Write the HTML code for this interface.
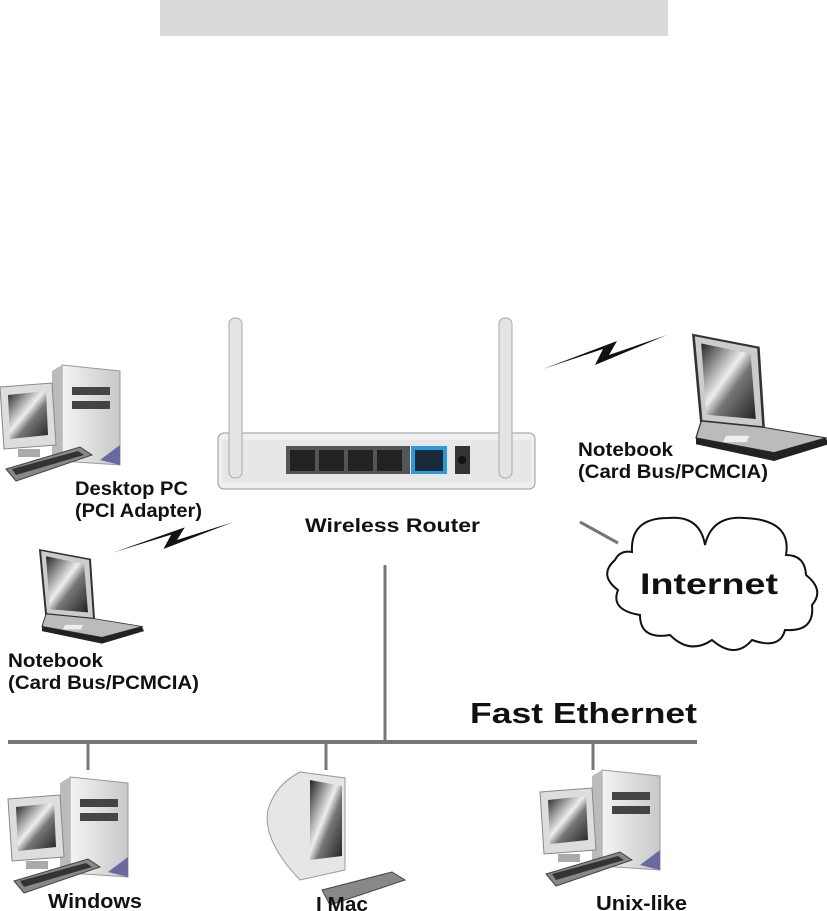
<!DOCTYPE html>
<html><head><meta charset="utf-8"><style>
html,body{margin:0;padding:0;background:#fff;width:827px;height:911px;overflow:hidden}
svg{display:block}
text{font-family:"Liberation Sans",sans-serif;font-weight:bold;fill:#111}
</style></head><body>
<svg width="827" height="911" viewBox="0 0 827 911" xmlns="http://www.w3.org/2000/svg">
<defs>
<linearGradient id="scr" x1="0" y1="0" x2="1" y2="1"><stop offset="0" stop-color="#222"/><stop offset="0.45" stop-color="#eee"/><stop offset="0.6" stop-color="#777"/><stop offset="1" stop-color="#222"/></linearGradient>
<linearGradient id="grey" x1="0" y1="0" x2="1" y2="0"><stop offset="0" stop-color="#f4f4f4"/><stop offset="1" stop-color="#c8c8c8"/></linearGradient>
<g id="pc">
<polygon points="62,0 120,6 120,100 62,96" fill="url(#grey)" stroke="#999"/>
<polygon points="52,6 62,0 62,96 52,100" fill="#bbb"/>
<rect x="72" y="22" width="38" height="8" fill="#444"/>
<rect x="72" y="36" width="38" height="8" fill="#444"/>
<polygon points="100,95 120,80 120,100" fill="#6a6aa0"/>
<polygon points="0,22 52,18 56,80 4,84" fill="#ddd" stroke="#888"/>
<polygon points="8,30 46,26 48,70 10,74" fill="url(#scr)"/>
<rect x="18" y="84" width="22" height="8" fill="#aaa"/>
<polygon points="6,104 80,82 92,90 16,116" fill="#888" stroke="#444"/>
<polygon points="12,104 78,86 84,90 16,110" fill="#333"/>
</g>
<g id="nb">
<polygon points="8,0 58,12 62,88 14,82" fill="#ccc" stroke="#333" stroke-width="2"/>
<polygon points="14,8 52,18 56,80 18,76" fill="url(#scr)"/>
<polygon points="14,82 62,88 110,98 70,112 10,98" fill="#bbb" stroke="#333"/>
<polygon points="10,98 70,112 110,98 112,104 70,120 10,104" fill="#222"/>
<rect x="68" y="96" width="18" height="6" fill="#eee" transform="skewX(-20)"/>
</g>
<g id="bolt"><polygon points="0,34 60,14 52,30 124,0 66,20 74,6" fill="#111"/></g>
</defs>

<rect x="160" y="0" width="508" height="36" fill="#d9d9d9"/>

<!-- router -->
<rect x="218" y="433" width="317" height="56" rx="6" fill="#efefef" stroke="#999"/>
<rect x="222" y="440" width="309" height="42" fill="#e7e7e7"/>
<rect x="229" y="318" width="13" height="160" rx="6" fill="#e4e4e4" stroke="#aaa"/>
<rect x="499" y="318" width="13" height="160" rx="6" fill="#e4e4e4" stroke="#aaa"/>
<rect x="286" y="446" width="124" height="28" fill="#555"/>
<rect x="290" y="450" width="25" height="21" fill="#222"/>
<rect x="319" y="450" width="25" height="21" fill="#222"/>
<rect x="348" y="450" width="25" height="21" fill="#222"/>
<rect x="377" y="450" width="25" height="21" fill="#222"/>
<rect x="411" y="446" width="36" height="28" fill="#2a9ad8"/>
<rect x="415" y="450" width="28" height="21" fill="#1a2a3a"/>
<rect x="455" y="446" width="15" height="28" fill="#333"/>
<circle cx="462" cy="460" r="4" fill="#111"/>
<text x="305" y="532" font-size="19" textLength="175" lengthAdjust="spacingAndGlyphs">Wireless  Router</text>

<!-- bolts -->
<use href="#bolt" transform="translate(543,335)"/>
<use href="#bolt" transform="translate(113,522) scale(0.97,0.9)"/>

<!-- devices -->
<use href="#pc" transform="translate(0,365)"/>
<use href="#pc" transform="translate(8,777)"/>
<use href="#pc" transform="translate(540,770)"/>
<use href="#nb" transform="translate(683,335) scale(1.3,1.05)"/>
<use href="#nb" transform="translate(32,550) scale(1.0,0.78)"/>

<!-- iMac -->
<path d="M300,772 L345,778 L345,870 L300,880 Q262,840 268,810 Q275,785 300,772 Z" fill="#e6e6e6" stroke="#999"/>
<polygon points="310,780 342,786 342,856 310,860" fill="url(#scr)"/>
<polygon points="322,890 392,872 405,880 330,905" fill="#888" stroke="#444"/>

<text x="75" y="495" font-size="19" textLength="113" lengthAdjust="spacingAndGlyphs">Desktop PC</text>
<text x="75" y="517" font-size="19" textLength="127" lengthAdjust="spacingAndGlyphs">(PCI Adapter)</text>
<text x="578" y="456" font-size="19" textLength="95" lengthAdjust="spacingAndGlyphs">Notebook</text>
<text x="578" y="478" font-size="19" textLength="190" lengthAdjust="spacingAndGlyphs">(Card Bus/PCMCIA)</text>
<text x="8" y="667" font-size="19" textLength="95" lengthAdjust="spacingAndGlyphs">Notebook</text>
<text x="8" y="689" font-size="19" textLength="191" lengthAdjust="spacingAndGlyphs">(Card Bus/PCMCIA)</text>

<!-- cloud -->
<line x1="580" y1="522" x2="618" y2="543" stroke="#777" stroke-width="3"/>
<path d="M632,552 Q630,518 668,518 Q700,515 705,545 Q712,515 745,518 Q792,520 786,555 Q805,555 806,575 Q825,590 812,605 Q815,632 785,630 Q780,650 752,640 Q735,660 712,640 Q690,655 670,635 Q640,640 640,615 Q610,610 618,590 Q598,575 615,560 Q620,550 632,552 Z" fill="#fff" stroke="#111" stroke-width="2"/>
<text x="640" y="594" font-size="30" textLength="138" lengthAdjust="spacingAndGlyphs">Internet</text>

<!-- network -->
<line x1="385" y1="565" x2="385" y2="742" stroke="#777" stroke-width="3"/>
<line x1="8" y1="742" x2="697" y2="742" stroke="#777" stroke-width="4"/>
<line x1="88" y1="742" x2="88" y2="770" stroke="#777" stroke-width="3"/>
<line x1="326" y1="742" x2="326" y2="770" stroke="#777" stroke-width="3"/>
<line x1="593" y1="742" x2="593" y2="770" stroke="#777" stroke-width="3"/>
<text x="470" y="723" font-size="29" textLength="227" lengthAdjust="spacingAndGlyphs">Fast Ethernet</text>

<text x="48" y="908" font-size="20" textLength="94" lengthAdjust="spacingAndGlyphs">Windows</text>
<text x="316" y="911" font-size="20" textLength="52" lengthAdjust="spacingAndGlyphs">I Mac</text>
<text x="596" y="910" font-size="20" textLength="91" lengthAdjust="spacingAndGlyphs">Unix-like</text>
</svg>
</body></html>
